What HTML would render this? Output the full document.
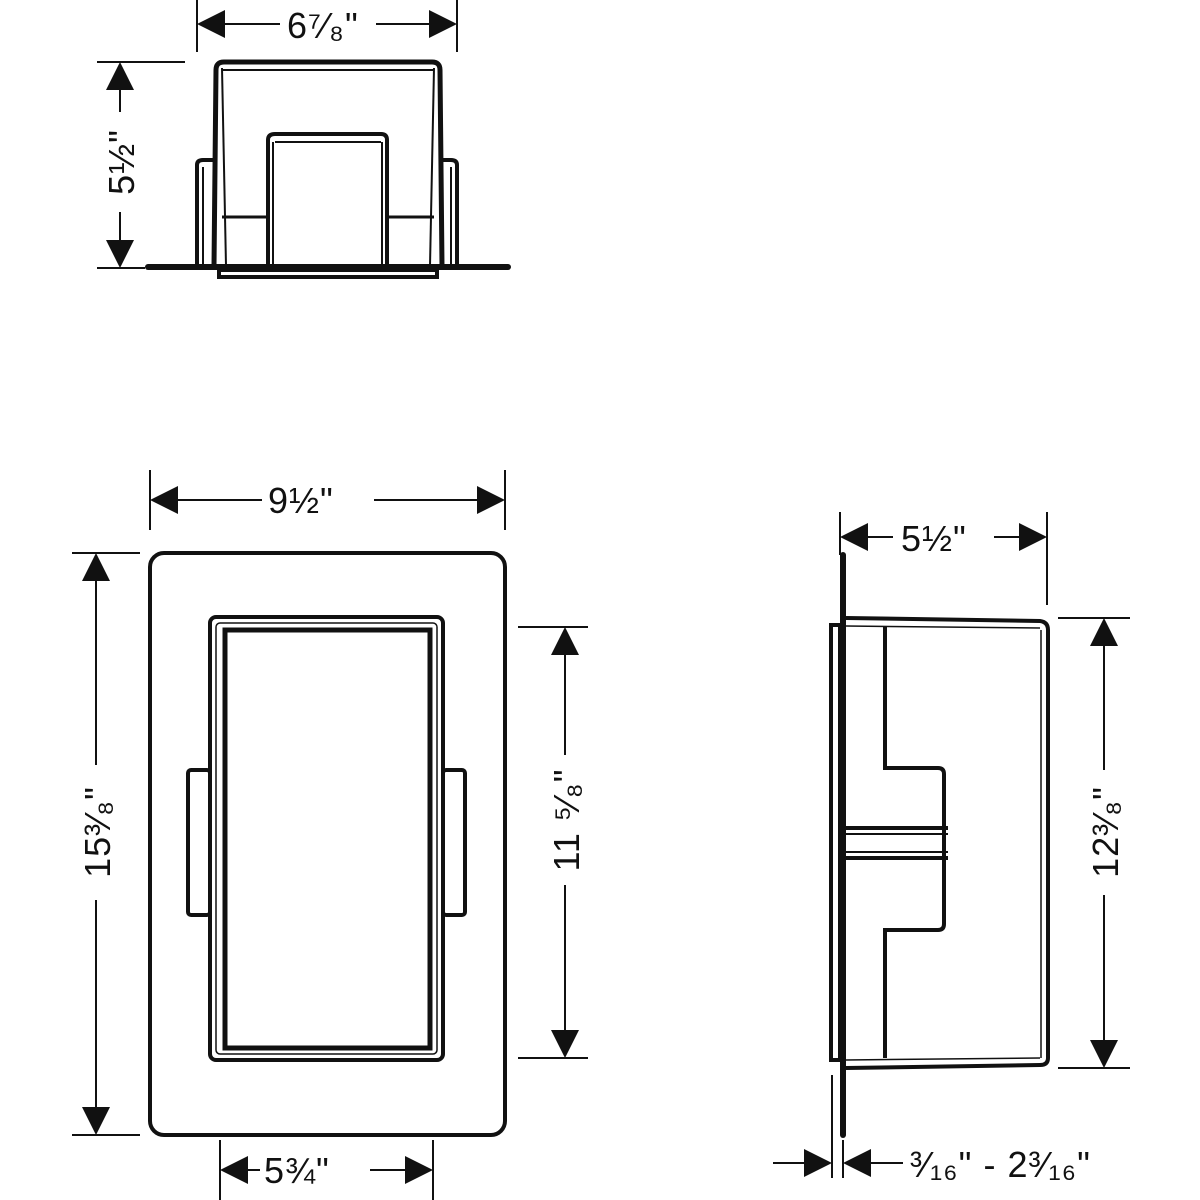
<!DOCTYPE html>
<html><head><style>body{margin:0;background:#fff}svg{display:block}text{font-family:"Liberation Sans",sans-serif;font-size:36px;fill:#111;letter-spacing:1px}</style></head><body>
<svg width="1200" height="1200" viewBox="0 0 1200 1200" xmlns="http://www.w3.org/2000/svg">
<g stroke="#111" fill="none" stroke-width="2">
<line x1="197" y1="0" x2="197" y2="52"/><line x1="457" y1="0" x2="457" y2="52"/>
<path d="M197,24 L225,10 L225,38z M457,24 L429,10 L429,38z" fill="#111" stroke="none"/>
<line x1="225" y1="24" x2="280" y2="24"/><line x1="376" y1="24" x2="429" y2="24"/>
<line x1="97" y1="62" x2="185" y2="62"/><line x1="97" y1="268" x2="145" y2="268"/>
<path d="M120,62 L106,90 L134,90z M120,268 L106,240 L134,240z" fill="#111" stroke="none"/>
<line x1="120" y1="90" x2="120" y2="112"/><line x1="120" y1="212" x2="120" y2="240"/>
<path d="M214,266 L216,70 Q216,62 224,62 L432,62 Q440,62 440,70 L442,266" stroke-width="5"/>
<line x1="222" y1="68" x2="226" y2="266"/><line x1="434" y1="68" x2="430" y2="266"/>
<line x1="222" y1="70" x2="434" y2="70"/>
<path d="M268,266 L268,140 Q268,134 275,134 L381,134 Q387,134 387,140 L387,266" stroke-width="4"/>
<line x1="275" y1="142" x2="381" y2="142"/>
<line x1="273" y1="142" x2="273" y2="266"/><line x1="382" y1="142" x2="382" y2="266"/>
<line x1="222" y1="217" x2="268" y2="217" stroke-width="3"/><line x1="387" y1="217" x2="434" y2="217" stroke-width="3"/>
<path d="M197,266 L197,165 Q197,160 203,160 L214,160" stroke-width="4"/>
<line x1="203" y1="167" x2="203" y2="266"/>
<path d="M457,266 L457,165 Q457,160 451,160 L442,160" stroke-width="4"/>
<line x1="451" y1="167" x2="451" y2="266"/>
<line x1="148" y1="267" x2="508" y2="267" stroke-width="6" stroke-linecap="round"/>
<rect x="219" y="270" width="218" height="7" stroke-width="4"/>
<line x1="150" y1="470" x2="150" y2="530"/><line x1="505" y1="470" x2="505" y2="530"/>
<path d="M150,500 L178,486 L178,514z M505,500 L477,486 L477,514z" fill="#111" stroke="none"/>
<line x1="178" y1="500" x2="262" y2="500"/><line x1="374" y1="500" x2="477" y2="500"/>
<rect x="150" y="553" width="355" height="582" rx="14" stroke-width="4"/>
<rect x="210" y="617" width="233" height="443" rx="6" stroke-width="4"/>
<rect x="216" y="623" width="221" height="431" rx="4" stroke-width="1.5"/>
<rect x="225" y="630" width="205" height="418" stroke-width="5"/>
<rect x="188" y="770" width="22" height="145" rx="3" stroke-width="4"/>
<rect x="443" y="770" width="22" height="145" rx="3" stroke-width="4"/>
<line x1="72" y1="553" x2="140" y2="553"/><line x1="72" y1="1135" x2="140" y2="1135"/>
<path d="M96,553 L82,581 L110,581z M96,1135 L82,1107 L110,1107z" fill="#111" stroke="none"/>
<line x1="96" y1="581" x2="96" y2="765"/><line x1="96" y1="900" x2="96" y2="1107"/>
<line x1="518" y1="627" x2="588" y2="627"/><line x1="518" y1="1058" x2="588" y2="1058"/>
<path d="M565,627 L551,655 L579,655z M565,1058 L551,1030 L579,1030z" fill="#111" stroke="none"/>
<line x1="565" y1="655" x2="565" y2="755"/><line x1="565" y1="885" x2="565" y2="1030"/>
<line x1="220" y1="1140" x2="220" y2="1200"/><line x1="433" y1="1140" x2="433" y2="1200"/>
<path d="M220,1170 L248,1156 L248,1184z M433,1170 L405,1156 L405,1184z" fill="#111" stroke="none"/>
<line x1="248" y1="1170" x2="260" y2="1170"/><line x1="370" y1="1170" x2="405" y2="1170"/>
<line x1="840" y1="512" x2="840" y2="555"/><line x1="1047" y1="512" x2="1047" y2="605"/>
<path d="M840,537 L868,523 L868,551z M1047,537 L1019,523 L1019,551z" fill="#111" stroke="none"/>
<line x1="868" y1="537" x2="893" y2="537"/><line x1="994" y1="537" x2="1019" y2="537"/>
<line x1="843" y1="555" x2="843" y2="1135" stroke-width="6" stroke-linecap="round"/>
<rect x="831" y="625" width="9" height="435" stroke-width="4"/>
<path d="M846,618 L1040,621 Q1048,622 1048,630 L1048,1058 Q1048,1065 1040,1065 L846,1068" stroke-width="4"/>
<line x1="846" y1="626" x2="1040" y2="628" stroke-width="1.5"/>
<line x1="1041" y1="630" x2="1041" y2="1058" stroke-width="1.5"/>
<line x1="846" y1="1060" x2="1040" y2="1058" stroke-width="1.5"/>
<path d="M885,627 L885,768 L938,768 Q944,768 944,774 L944,924 Q944,930 938,930 L885,930 L885,1058" stroke-width="4"/>
<line x1="846" y1="828" x2="948" y2="828" stroke-width="4"/><line x1="846" y1="834" x2="948" y2="834"/>
<line x1="846" y1="858" x2="948" y2="858" stroke-width="4"/><line x1="846" y1="852" x2="948" y2="852"/>
<line x1="1058" y1="618" x2="1130" y2="618"/><line x1="1058" y1="1068" x2="1130" y2="1068"/>
<path d="M1104,618 L1090,646 L1118,646z M1104,1068 L1090,1040 L1118,1040z" fill="#111" stroke="none"/>
<line x1="1104" y1="646" x2="1104" y2="770"/><line x1="1104" y1="895" x2="1104" y2="1040"/>
<line x1="832" y1="1075" x2="832" y2="1178"/><line x1="843" y1="1140" x2="843" y2="1178"/>
<path d="M832,1163 L804,1149 L804,1177z M843,1163 L871,1149 L871,1177z" fill="#111" stroke="none"/>
<line x1="773" y1="1163" x2="804" y2="1163"/><line x1="871" y1="1163" x2="903" y2="1163"/>
</g>
<text x="287" y="38">6⁷⁄₈"</text>
<text transform="translate(134,162) rotate(-90)" text-anchor="middle">5½"</text>
<text x="268" y="513">9½"</text>
<text transform="translate(110,832) rotate(-90)" text-anchor="middle">15³⁄₈"</text>
<text transform="translate(579,820) rotate(-90)" text-anchor="middle">11 ⁵⁄₈"</text>
<text x="264" y="1183">5¾"</text>
<text x="901" y="551">5½"</text>
<text transform="translate(1118,832) rotate(-90)" text-anchor="middle">12³⁄₈"</text>
<text x="910" y="1177">³⁄₁₆" - 2³⁄₁₆"</text>
</svg>
</body></html>
